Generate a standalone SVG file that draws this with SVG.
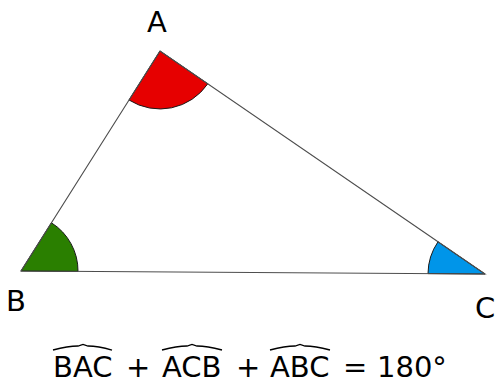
<svg xmlns="http://www.w3.org/2000/svg" width="495" height="385" viewBox="0 0 495 385">
<style>
.side{stroke:#4d4d4d;stroke-width:1.1;fill:none}
.sector{stroke:#1a1a1a;stroke-width:1;stroke-linejoin:round}
.lbl{font-family:"DejaVu Sans",sans-serif;font-size:29px;fill:#000}
.hat{stroke:#000;stroke-width:1.3;fill:none}
</style>
<rect width="495" height="385" fill="#fff"/>
<g id="angles">
<path id="angleA" class="sector" fill="#e60000" d="M160,51 L129,100 A58,58 0 0 0 207.8,83.8 Z"/>
<path id="angleB" class="sector" fill="#2a7f00" d="M21,271 L51.4,222.8 A57,57 0 0 1 78,271.4 Z"/>
<path id="angleC" class="sector" fill="#0095e9" d="M485,274 L428,273.6 A57,57 0 0 1 438,241.8 Z"/>
</g>
<g id="connectors">
<path class="side" d="M160,51 L21,271 L485,274 Z"/>
</g>
<g id="A"><text class="lbl" x="157" y="32" text-anchor="middle">A</text></g>
<g id="B"><text class="lbl" x="16" y="311" text-anchor="middle">B</text></g>
<g id="C"><text class="lbl" x="485" y="318" text-anchor="middle">C</text></g>
<g id="equation">
<text class="lbl" x="53" y="377">BAC</text>
<text class="lbl" x="126" y="377">+</text>
<text class="lbl" x="162" y="377">ACB</text>
<text class="lbl" x="236" y="377">+</text>
<text class="lbl" x="270" y="377">ABC</text>
<text class="lbl" x="343" y="377">=</text>
<text class="lbl" x="377" y="377">180°</text>
<path class="hat" d="M53,350 Q68,346 78,346 L83,344.5 L88,346 Q98,346 112,350"/>
<path class="hat" d="M162,350 Q177,346 187,346 L192,344.5 L197,346 Q207,346 222,350"/>
<path class="hat" d="M270,350 Q285,346 295,346 L300,344.5 L305,346 Q315,346 330,350"/>
</g>
</svg>
